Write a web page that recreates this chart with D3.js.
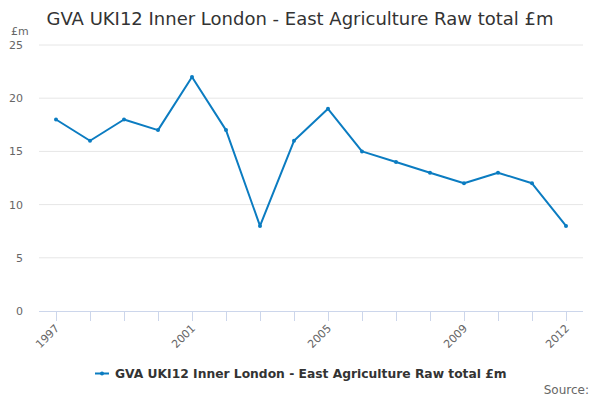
<!DOCTYPE html>
<html><head><meta charset="utf-8">
<script src="https://cdn.jsdelivr.net/npm/d3@7"></script>
<style>body{margin:0;background:#fff;}svg{display:block;font-family:"DejaVu Sans",sans-serif;}</style>
</head><body><svg id="c" width="600" height="400"></svg>
<script>
const years = [1997,1998,1999,2000,2001,2002,2003,2004,2005,2006,2007,2008,2009,2010,2011,2012];
const values = [18,16,18,17,22,17,8,16,19,15,14,13,12,13,12,8];
const yTicks = [0,5,10,15,20,25];
const xLabels = [1997,2001,2005,2009,2012];
const title = "GVA UKI12 Inner London - East Agriculture Raw total £m";
const seriesName = "GVA UKI12 Inner London - East Agriculture Raw total £m";
const unit = "£m";
const color = "#0b7cc1";

const svg = d3.select("#c");
const L = 39, R = 583, T = 45, B = 311;
const x = d3.scalePoint().domain(years).range([L, R]).padding(0.5);
const y = d3.scaleLinear().domain([0, 25]).range([B, T]);

svg.append("text").attr("x", 300).attr("y", 25).attr("text-anchor", "middle")
  .attr("font-size", 18).attr("fill", "#333").text(title);

const grid = svg.append("g");
yTicks.forEach(t => {
  if (t > 0) grid.append("line").attr("x1", L).attr("x2", R).attr("y1", y(t)).attr("y2", y(t))
    .attr("stroke", "#e6e6e6").attr("stroke-width", 1);
  grid.append("text").attr("x", 23).attr("y", y(t) + 4).attr("text-anchor", "end")
    .attr("font-size", 11).attr("fill", "#666").text(t);
});
svg.append("text").attr("x", 11).attr("y", 35).attr("font-size", 11).attr("fill", "#666").text(unit);

// x axis
svg.append("line").attr("x1", L).attr("x2", R).attr("y1", B + 0.5).attr("y2", B + 0.5)
  .attr("stroke", "#ccd6eb");
years.forEach(yr => {
  svg.append("line").attr("x1", Math.round(x(yr)) + 0.5).attr("x2", Math.round(x(yr)) + 0.5)
    .attr("y1", B).attr("y2", B + 10).attr("stroke", "#ccd6eb");
});
xLabels.forEach(yr => {
  svg.append("text").attr("text-anchor", "end").attr("font-size", 11).attr("fill", "#666")
    .attr("transform", `translate(${x(yr) + 4},${B + 18}) rotate(-45)`).text(yr);
});

const line = d3.line().x((d, i) => x(years[i])).y(d => y(d));
svg.append("path").datum(values).attr("d", line).attr("fill", "none")
  .attr("stroke", color).attr("stroke-width", 2).attr("stroke-linejoin", "round");
svg.selectAll("circle.pt").data(values).enter().append("circle")
  .attr("cx", (d, i) => x(years[i])).attr("cy", d => y(d)).attr("r", 2).attr("fill", color);

// legend
const lg = svg.append("g");
lg.append("line").attr("x1", 95).attr("x2", 109).attr("y1", 373.5).attr("y2", 373.5)
  .attr("stroke", color).attr("stroke-width", 2);
lg.append("circle").attr("cx", 102).attr("cy", 373.5).attr("r", 2).attr("fill", color);
lg.append("text").attr("x", 115).attr("y", 378).attr("font-size", 12.3).attr("font-weight", "bold")
  .attr("fill", "#333").text(seriesName);

svg.append("text").attr("x", 589).attr("y", 394).attr("text-anchor", "end")
  .attr("font-size", 12).attr("fill", "#666").text("Source:");
</script></body></html>
